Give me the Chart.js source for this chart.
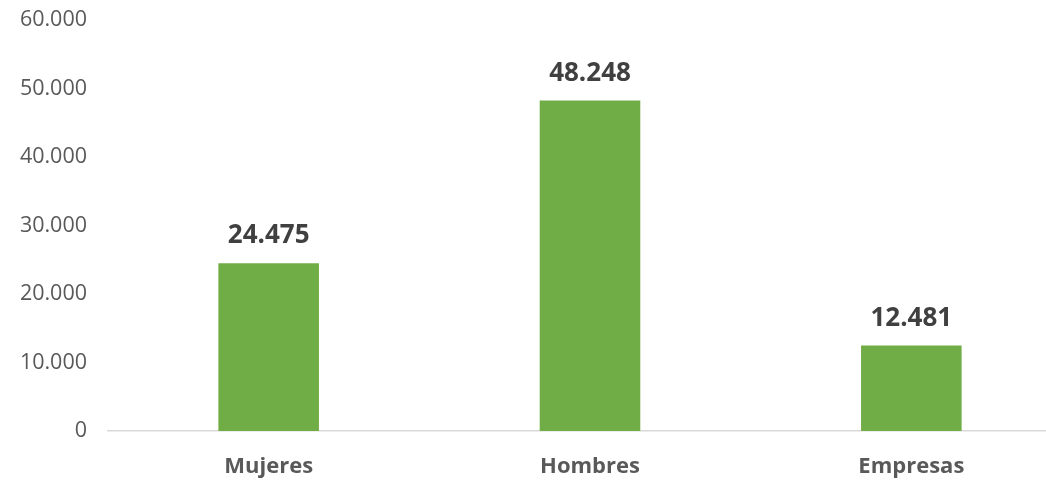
<!DOCTYPE html>
<html>
<head>
<meta charset="utf-8">
<script src="https://cdn.jsdelivr.net/npm/chart.js@4"></script>
<style>
  html, body { margin: 0; padding: 0; background: #fff; overflow: hidden; }
  #wrap { width: 1072px; height: 481px; position: relative; }
</style>
</head>
<body>
<div id="wrap"><canvas id="chart"></canvas></div>
<script>
const categories = ['Mujeres', 'Hombres', 'Empresas'];
const values = [24475, 48248, 12481];
const yTicks = [0, 10000, 20000, 30000, 40000, 50000, 60000];

// thousands with a dot, like the original
function fmt(n) {
  return String(Math.round(n)).replace(/\B(?=(\d{3})+(?!\d))/g, '.');
}

const barLabels = {
  id: 'barLabels',
  afterDatasetsDraw(chart) {
    const ctx = chart.ctx;
    const meta = chart.getDatasetMeta(0);
    ctx.save();
    ctx.font = 'bold 26px "Open Sans"';
    ctx.fillStyle = '#404040';
    ctx.textAlign = 'center';
    ctx.textBaseline = 'alphabetic';
    meta.data.forEach((bar, i) => {
      ctx.fillText(fmt(values[i]), bar.x, bar.y - 20);
    });
    ctx.restore();
  }
};

new Chart(document.getElementById('chart').getContext('2d'), {
  type: 'bar',
  data: {
    labels: categories,
    datasets: [{
      data: values,
      backgroundColor: '#70AD47',
      borderWidth: 0,
      barPercentage: 0.313,
      categoryPercentage: 1
    }]
  },
  options: {
    responsive: true,
    maintainAspectRatio: false,
    animation: false,
    layout: { padding: { top: 20, left: 0, right: 0, bottom: 0 } },
    plugins: {
      legend: { display: false },
      tooltip: { enabled: false }
    },
    scales: {
      x: {
        grid: { display: false, drawTicks: false },
        border: { display: true, color: '#D9D9D9', width: 1.5 },
        ticks: {
          color: '#595959',
          font: { family: 'Open Sans', size: 22, weight: 'bold' },
          padding: 23
        },
        afterFit(scale) { scale.height = 50; }
      },
      y: {
        min: 0,
        max: 60000,
        afterBuildTicks(scale) { scale.ticks = yTicks.map(v => ({ value: v })); },
        grid: { display: false, drawTicks: false },
        border: { display: false },
        ticks: {
          color: '#595959',
          font: { family: 'Open Sans', size: 21.5 },
          padding: 21,
          callback: v => fmt(v)
        },
        afterFit(scale) {
          scale.width = 108;
          scale.paddingTop = 0;
          scale.paddingBottom = 0;
        }
      }
    }
  },
  plugins: [barLabels]
});
</script>
</body>
</html>
